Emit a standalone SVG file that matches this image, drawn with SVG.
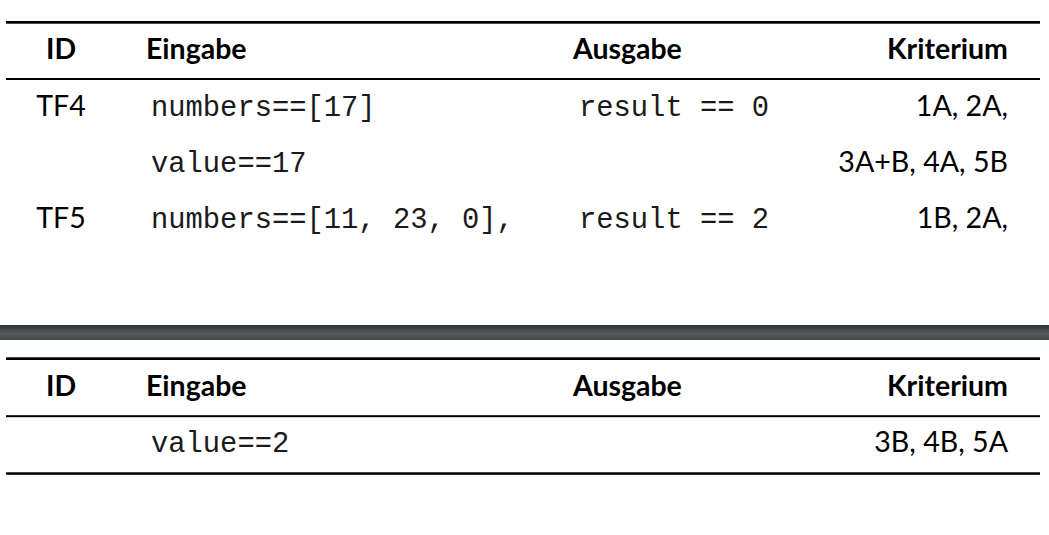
<svg xmlns="http://www.w3.org/2000/svg" width="1049" height="535" viewBox="0 0 1049 535">
  <defs>
    <linearGradient id="bandGrad" x1="0" y1="0" x2="0" y2="1">
      <stop offset="0" stop-color="#2e3134"/>
      <stop offset="0.6" stop-color="#575b5e"/>
      <stop offset="1" stop-color="#44484b"/>
    </linearGradient>
  </defs>
  <style>
    .hd { font-family: Lato, "Noto Sans", sans-serif; font-weight: bold; font-size: 28.5px; fill: #000; }
    .id { font-family: Lato, "Noto Sans", sans-serif; font-size: 28.5px; fill: #000; text-anchor: middle; }
    .cr { font-family: Lato, "Noto Sans", sans-serif; font-size: 28.6px; fill: #000; text-anchor: end; }
    .mono { font-family: "Liberation Mono", "DejaVu Sans Mono", monospace; font-size: 28.8px; fill: #1a1a1a; }
    .thick { fill: #000; }
  </style>
  <rect width="1049" height="535" fill="#fff"/>

  <g id="table1">
    <g id="t1-rules">
      <rect class="thick" x="6" y="21" width="1034" height="2.7"/>
      <rect class="thick" x="6" y="78" width="1034" height="2"/>
    </g>
    <g id="t1-header">
      <text class="hd" x="61" y="59" text-anchor="middle">ID</text>
      <text class="hd" x="146" y="59">Eingabe</text>
      <text class="hd" x="573" y="59">Ausgabe</text>
      <text class="hd" x="1008" y="59" text-anchor="end">Kriterium</text>
    </g>
    <g id="t1-row-tf4">
      <text class="id" x="61" y="116">TF4</text>
      <text class="mono" x="151" y="116">numbers==[17]</text>
      <text class="mono" x="579" y="116">result == 0</text>
      <text class="cr" x="1008" y="116">1A, 2A,</text>
      <text class="mono" x="151" y="172">value==17</text>
      <text class="cr" x="1008" y="172">3A+B, 4A, 5B</text>
    </g>
    <g id="t1-row-tf5">
      <text class="id" x="61" y="228">TF5</text>
      <text class="mono" x="151" y="228">numbers==[11, 23, 0],</text>
      <text class="mono" x="579" y="228">result == 2</text>
      <text class="cr" x="1008" y="228">1B, 2A,</text>
    </g>
  </g>

  <g id="page-break">
    <rect x="0" y="325" width="1049" height="15" fill="url(#bandGrad)"/>
  </g>

  <g id="table2">
    <g id="t2-rules">
      <rect class="thick" x="6" y="357.3" width="1034" height="2.7"/>
      <rect class="thick" x="6" y="415.2" width="1034" height="2"/>
      <rect class="thick" x="6" y="472.3" width="1034" height="2.5"/>
    </g>
    <g id="t2-header">
      <text class="hd" x="61" y="396" text-anchor="middle">ID</text>
      <text class="hd" x="146" y="396">Eingabe</text>
      <text class="hd" x="573" y="396">Ausgabe</text>
      <text class="hd" x="1008" y="396" text-anchor="end">Kriterium</text>
    </g>
    <g id="t2-row-tf5-cont">
      <text class="mono" x="151" y="452">value==2</text>
      <text class="cr" x="1008" y="452">3B, 4B, 5A</text>
    </g>
  </g>
</svg>
